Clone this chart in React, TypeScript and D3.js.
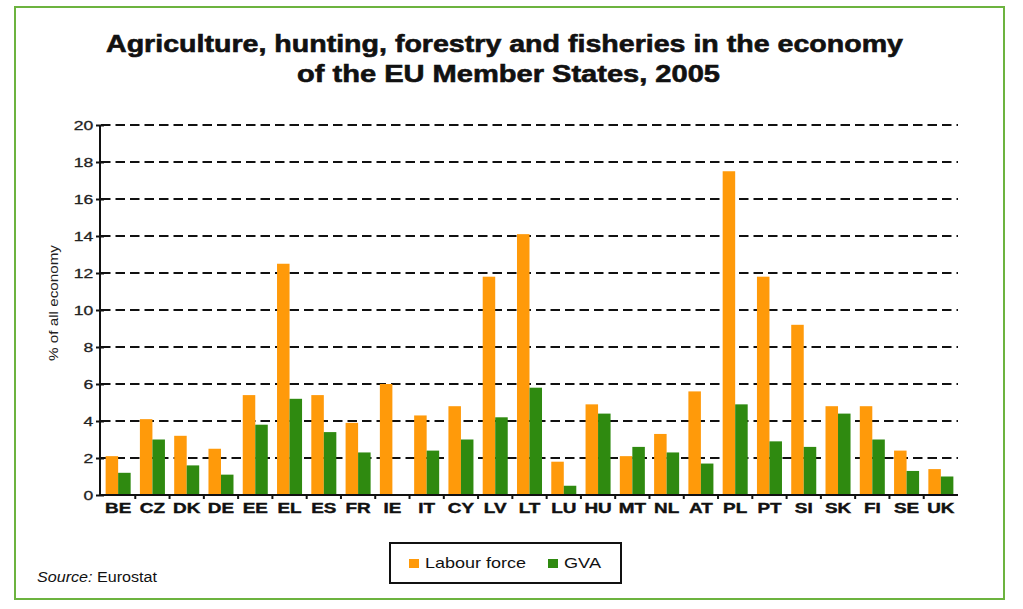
import React, { useRef, useEffect } from "react";
import * as d3 from "d3";

// values (% of all economy, 2005)
const countries = ["BE", "CZ", "DK", "DE", "EE", "EL", "ES", "FR", "IE", "IT", "CY", "LV", "LT", "LU", "HU", "MT", "NL", "AT", "PL", "PT", "SI", "SK", "FI", "SE", "UK"];
const labourForce = [2.1, 4.1, 3.2, 2.5, 5.4, 12.5, 5.4, 3.9, 6.0, 4.3, 4.8, 11.8, 14.1, 1.8, 4.9, 2.1, 3.3, 5.6, 17.5, 11.8, 9.2, 4.8, 4.8, 2.4, 1.4];
const gva = [1.2, 3.0, 1.6, 1.1, 3.8, 5.2, 3.4, 2.3, 0, 2.4, 3.0, 4.2, 5.8, 0.5, 4.4, 2.6, 2.3, 1.7, 4.9, 2.9, 2.6, 4.4, 3.0, 1.3, 1.0];
const seriesNames = ["Labour force", "GVA"];
const seriesColors = ["#ff9a0a", "#2f8a10"];
const yTicks = [0, 2, 4, 6, 8, 10, 12, 14, 16, 18, 20];

const App = () => {
  const svgRef = useRef<SVGSVGElement>(null);

  useEffect(() => {
    const svg = d3.select(svgRef.current);
    svg.selectAll("*").remove();

    const left = 101, right = 958, top = 125, bottom = 495;

    const x = d3.scaleBand().domain(countries).range([left, right]).paddingInner(0.27).paddingOuter(0.135);
    const xs = d3.scaleBand().domain(seriesNames).range([0, x.bandwidth()]);
    const y = d3.scaleLinear().domain([0, 20]).range([bottom, top]);

    // green frame
    svg.append("rect")
      .attr("x", 15).attr("y", 7).attr("width", 989).attr("height", 592)
      .attr("fill", "white").attr("stroke", "#6cb33f").attr("stroke-width", 2);

    // title, a bit heavier than plain bold
    const title = svg.append("g").attr("font-family", "Liberation Sans, Arial, sans-serif")
      .attr("font-weight", "bold").attr("font-size", 24).attr("fill", "#111")
      .attr("stroke", "#111").attr("stroke-width", 0.6);
    title.append("text").attr("x", 106).attr("y", 52)
      .attr("textLength", 797).attr("lengthAdjust", "spacingAndGlyphs")
      .text("Agriculture, hunting, forestry and fisheries in the economy");
    title.append("text").attr("x", 297).attr("y", 82)
      .attr("textLength", 423).attr("lengthAdjust", "spacingAndGlyphs")
      .text("of the EU Member States, 2005");

    // dashed grid lines
    svg.append("g").selectAll("line")
      .data(yTicks.filter((d) => d > 0))
      .join("line")
      .attr("x1", left).attr("x2", right)
      .attr("y1", (d) => y(d)).attr("y2", (d) => y(d))
      .attr("stroke", "#111").attr("stroke-width", 2.2)
      .attr("stroke-dasharray", "9.5,5");

    // bars
    const rows = countries.map((c, i) => ({ c, vals: [labourForce[i], gva[i]] }));
    svg.append("g").selectAll("g")
      .data(rows)
      .join("g")
      .attr("transform", (d) => `translate(${x(d.c)},0)`)
      .selectAll("rect")
      .data((d) => d.vals.map((v, k) => ({ v, k })))
      .join("rect")
      .attr("x", (d) => xs(seriesNames[d.k])!)
      .attr("width", xs.bandwidth())
      .attr("y", (d) => y(d.v))
      .attr("height", (d) => y(0) - y(d.v))
      .attr("fill", (d) => seriesColors[d.k]);

    // y axis
    const yAxis = svg.append("g").attr("transform", `translate(${left - 1},0)`)
      .call(d3.axisLeft(y).tickValues(yTicks).tickSize(4).tickPadding(6).tickFormat(d3.format("d")));
    yAxis.select(".domain").attr("stroke", "#111").attr("stroke-width", 2).attr("d", `M0,${top}V${bottom}`);
    yAxis.selectAll(".tick line").attr("x1", -4).attr("x2", 4).attr("stroke", "#111").attr("stroke-width", 2);
    yAxis.selectAll(".tick text")
      .attr("font-family", "Liberation Sans, Arial, sans-serif").attr("font-size", 13)
      .attr("fill", "#222").attr("stroke", "#222").attr("stroke-width", 0.3)
      .attr("transform", "translate(-4,0) scale(1.35,1)")
      .attr("x", -2);

    // x axis
    const xAxis = svg.append("g").attr("transform", `translate(0,${bottom})`)
      .call(d3.axisBottom(x).tickSize(0).tickPadding(8));
    xAxis.select(".domain").attr("stroke", "#111").attr("stroke-width", 2).attr("d", `M${left - 2},0H${right}`);
    xAxis.selectAll(".tick text")
      .attr("font-family", "Liberation Sans, Arial, sans-serif").attr("font-size", 14)
      .attr("font-weight", "bold").attr("fill", "#111")
      .attr("stroke", "#111").attr("stroke-width", 0.4)
      .attr("dy", "0.7em")
      .attr("transform", "scale(1.35,1)");
    const step = x.step();
    svg.append("g").selectAll("line")
      .data(countries.slice(1))
      .join("line")
      .attr("x1", (d) => x(d)! - (step - x.bandwidth()) / 2)
      .attr("x2", (d) => x(d)! - (step - x.bandwidth()) / 2)
      .attr("y1", bottom).attr("y2", bottom + 4)
      .attr("stroke", "#111").attr("stroke-width", 2);

    // y axis title
    svg.append("text")
      .attr("transform", "translate(58,303) rotate(-90)")
      .attr("text-anchor", "middle")
      .attr("font-family", "Liberation Sans, Arial, sans-serif").attr("font-size", 13)
      .attr("fill", "#222")
      .attr("textLength", 116).attr("lengthAdjust", "spacingAndGlyphs")
      .text("% of all economy");

    // legend
    const legend = svg.append("g");
    legend.append("rect")
      .attr("x", 390).attr("y", 543).attr("width", 231).attr("height", 40)
      .attr("fill", "white").attr("stroke", "#111").attr("stroke-width", 2);
    const legendX = [409, 548];
    const legendW = [101, 37];
    seriesNames.forEach((name, i) => {
      legend.append("rect")
        .attr("x", legendX[i]).attr("y", 559).attr("width", 10).attr("height", 9)
        .attr("fill", seriesColors[i]);
      legend.append("text")
        .attr("x", legendX[i] + 16).attr("y", 568)
        .attr("font-family", "Liberation Sans, Arial, sans-serif").attr("font-size", 15)
        .attr("fill", "#111")
        .attr("textLength", legendW[i]).attr("lengthAdjust", "spacingAndGlyphs")
        .text(name);
    });

    // source note
    const src = svg.append("text")
      .attr("x", 37).attr("y", 582)
      .attr("font-family", "Liberation Sans, Arial, sans-serif").attr("font-size", 14)
      .attr("fill", "#111")
      .attr("textLength", 120).attr("lengthAdjust", "spacingAndGlyphs");
    src.append("tspan").attr("font-style", "italic").text("Source:");
    src.append("tspan").text(" Eurostat");
  }, []);

  return (
    <svg
      ref={svgRef}
      width={1023}
      height={609}
      style={{ position: "absolute", left: 0, top: 0, background: "white" }}
    ></svg>
  );
};

export default App;
